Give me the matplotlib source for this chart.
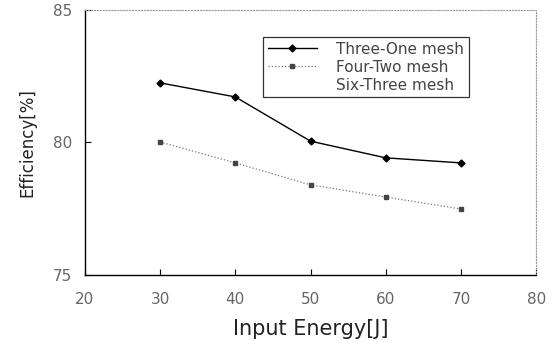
import matplotlib.pyplot as plt

# Data
energy = [30, 40, 50, 60, 70]
three_one = [82.25, 81.72, 80.05, 79.42, 79.23]
four_two = [80.02, 79.23, 78.40, 77.94, 77.49]
six_three = []  # appears only in the legend
x_ticks = [20, 30, 40, 50, 60, 70, 80]
y_ticks = [75, 80, 85]


def main():
    plt.rcParams['font.family'] = ['DejaVu Sans']
    fig = plt.figure(figsize=(5.58, 3.45), dpi=100)
    ax = fig.add_axes([0.152, 0.203, 0.809, 0.768])

    ax.plot(energy, three_one, color='black', linewidth=1.0, marker='D',
            markersize=3.5, label='Three-One mesh')
    ax.plot(energy, four_two, color='#777777', linewidth=0.9, linestyle=':',
            marker='s', markersize=3.5, markerfacecolor='#444444',
            markeredgecolor='#444444', label='Four-Two mesh')
    ax.plot(six_three, six_three, color='white', linewidth=1.0,
            label='Six-Three mesh')

    ax.set_xlim(20, 80)
    ax.set_ylim(75, 85)
    ax.set_xticks(x_ticks)
    ax.set_yticks(y_ticks)
    ax.tick_params(direction='in', length=4, width=0.8,
                   labelsize=11, labelcolor='#666666', top=False, right=False)
    ax.tick_params(axis='x', pad=12)
    ax.tick_params(axis='y', pad=9)

    for side in ['left', 'bottom']:
        ax.spines[side].set_color('black')
        ax.spines[side].set_linewidth(1.0)
    for side in ['top', 'right']:
        ax.spines[side].set_color('#999999')
        ax.spines[side].set_linestyle(':')
        ax.spines[side].set_linewidth(0.8)

    ax.set_xlabel('Input Energy[J]', fontsize=15, labelpad=9, color='#222222')
    ax.set_ylabel('Efficiency[%]', fontsize=12, labelpad=12, color='#222222')

    leg = ax.legend(loc='upper left', bbox_to_anchor=(0.395, 0.898),
                    fontsize=11, frameon=True, fancybox=False,
                    handlelength=3.2, borderaxespad=0, borderpad=0.3,
                    labelspacing=0.2, handletextpad=1.3)
    leg.get_frame().set_edgecolor('black')
    leg.get_frame().set_linewidth(0.9)
    for t in leg.get_texts():
        t.set_color('#444444')

    fig.savefig('out.png', dpi=100)


if __name__ == "__main__":
    main()
